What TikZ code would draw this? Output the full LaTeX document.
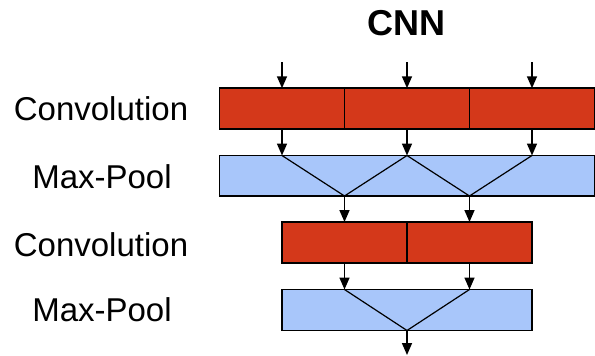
\documentclass[tikz,border=0pt]{standalone}
\usepackage{fontspec}
\setmainfont{Liberation Sans}
\usetikzlibrary{arrows.meta}
\definecolor{convred}{RGB}{212,56,26}
\definecolor{poolblue}{RGB}{168,198,250}
\tikzset{
  cell/.style={draw=black, line width=1.8pt, fill=convred, minimum width=125pt, minimum height=41pt, inner sep=0pt, outer sep=0pt},
  poolbox/.style={draw=black, line width=1.8pt, fill=poolblue, minimum height=41pt, inner sep=0pt, outer sep=0pt},
  divider/.style={line width=1.8pt},
  arr/.style={line width=1.6pt, -{Triangle[width=10pt,length=12pt]}},
  vline/.style={line width=1.2pt},
  lbl/.style={font=\fontsize{33}{40}\selectfont, inner sep=0pt},
}
\begin{document}
\begin{tikzpicture}[x=1pt,y=-1pt]
\useasboundingbox (0,0) rectangle (595,356);
% title
\node[font=\fontsize{36}{42}\selectfont\bfseries, inner sep=0pt] (title) at (406.7,23) {CNN};
% labels
\node[lbl] (l1) at (101,109) {Convolution};
\node[lbl] (l2) at (102,176.5) {Max-Pool};
\node[lbl] (l3) at (101,244.5) {Convolution};
\node[lbl] (l4) at (102,310) {Max-Pool};
% first convolution
\node[cell] (c1a) at (282,108.75) {};
\node[cell] (c1b) at (407,108.75) {};
\node[cell] (c1c) at (532,108.75) {};
\draw[divider] (c1a.north east) -- (c1a.south east);
\draw[divider] (c1b.north east) -- (c1b.south east);
% first max pool
\node[poolbox, minimum width=375pt, minimum height=40.5pt] (m1) at (407,175.75) {};
% second convolution
\node[cell] (c2a) at (344.5,242.5) {};
\node[cell] (c2b) at (469.5,242.5) {};
\draw[divider] (c2a.north east) -- (c2a.south east);
% second max pool
\node[poolbox, minimum width=250pt] (m2) at (407,310) {};
% inputs
\coordinate (i1) at (282,62);
\coordinate (i2) at (407,62);
\coordinate (i3) at (532,62);
\coordinate (out) at (407,355);
\draw[arr] (i1) -- (c1a.north);
\draw[arr] (i2) -- (c1b.north);
\draw[arr] (i3) -- (c1c.north);
% conv1 -> pool1
\draw[arr] (c1a.south) -- (m1.north -| c1a);
\draw[arr] (c1b.south) -- (m1.north -| c1b);
\draw[arr] (c1c.south) -- (m1.north -| c1c);
% pooling lines 1
\draw[vline] (m1.north -| c1a) -- (m1.south -| c2a) -- (m1.north -| c1b) -- (m1.south -| c2b) -- (m1.north -| c1c);
% pool1 -> conv2
\draw[arr] (m1.south -| c2a) -- (c2a.north);
\draw[arr] (m1.south -| c2b) -- (c2b.north);
% conv2 -> pool2
\draw[arr] (c2a.south) -- (m2.north -| c2a);
\draw[arr] (c2b.south) -- (m2.north -| c2b);
% pooling lines 2
\draw[vline] (m2.north -| c2a) -- (m2.south) -- (m2.north -| c2b);
% output
\draw[arr] (m2.south) -- (out);
\end{tikzpicture}
\end{document}
